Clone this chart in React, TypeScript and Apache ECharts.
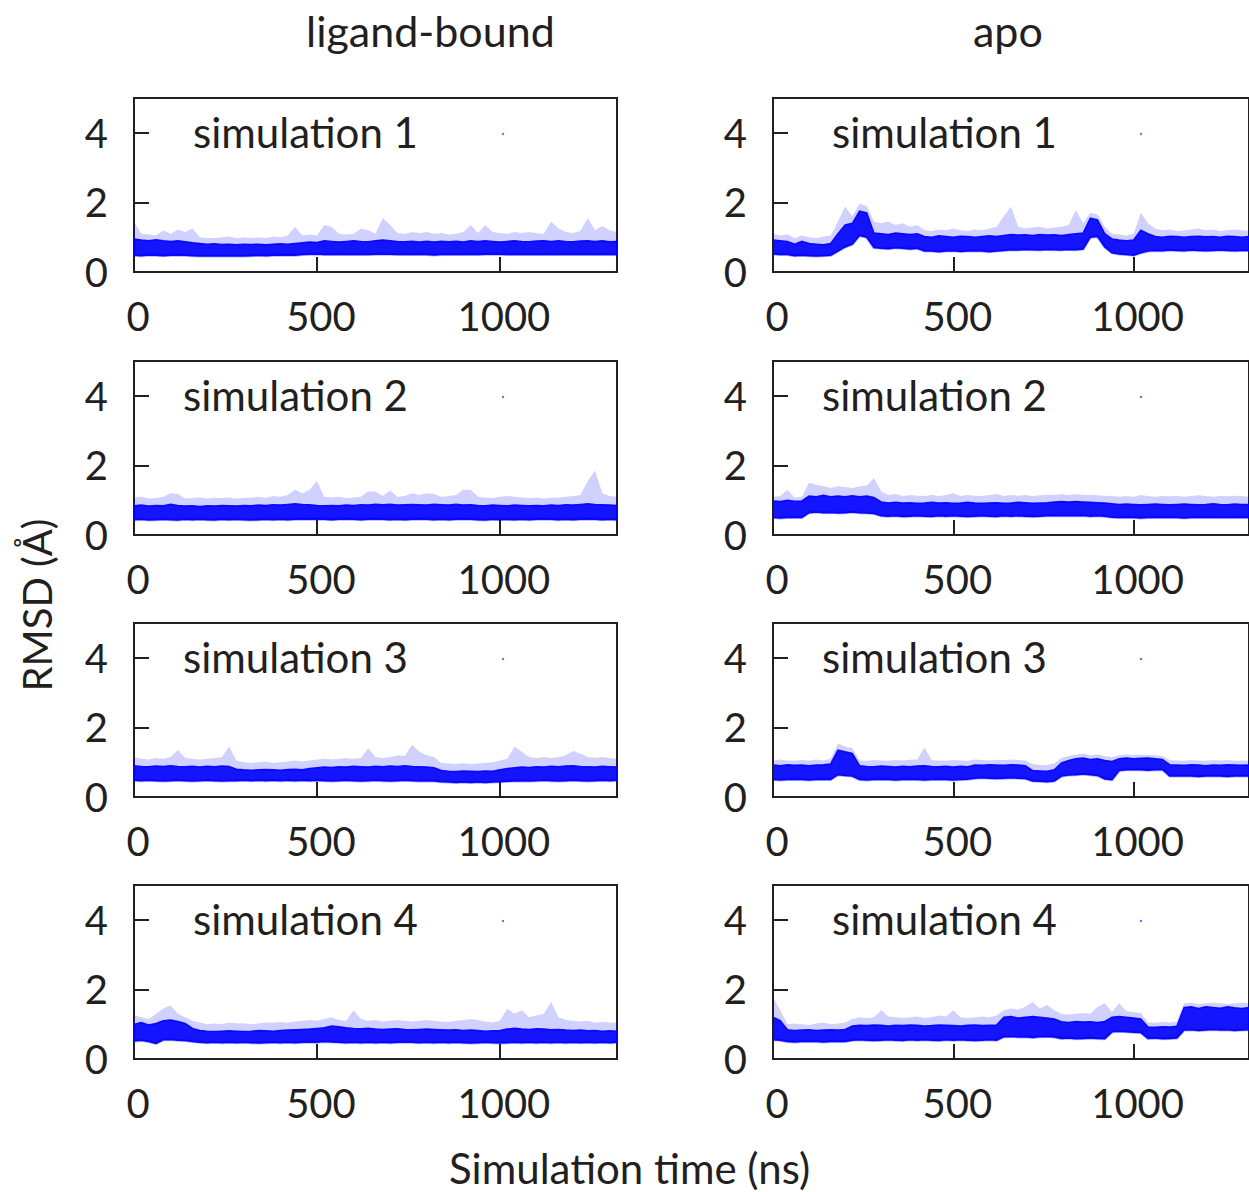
import React, { useEffect, useRef } from "react";
import * as echarts from "echarts";

// Simulation time sample points (ns)
const TIME = [0,20,40,60,80,100,120,140,160,180,200,220,240,260,280,300,320,340,360,380,400,420,440,460,480,500,520,540,560,580,600,620,640,660,680,700,720,740,760,780,800,820,840,860,880,900,920,940,960,980,1000,1020,1040,1060,1080,1100,1120,1140,1160,1180,1200,1220,1240,1260,1280,1300,1320];

const X_TICKS = [0, 500, 1000];
const Y_TICKS = [0, 2, 4];
const COLUMN_TITLES = ["ligand-bound", "apo"];
const PANEL_NAMES = ["simulation 1", "simulation 2", "simulation 3", "simulation 4"];

// ligand-bound, simulation 1: dense-band low edge, dense-band high edge, sparse peak
const LB1_LOW = [0.48,0.47,0.49,0.48,0.47,0.48,0.49,0.48,0.47,0.46,0.47,0.46,0.47,0.46,0.47,0.46,0.47,0.48,0.47,0.48,0.48,0.49,0.48,0.5,0.51,0.52,0.5,0.5,0.51,0.5,0.51,0.5,0.5,0.51,0.52,0.51,0.5,0.51,0.5,0.51,0.5,0.49,0.5,0.51,0.5,0.51,0.5,0.5,0.51,0.52,0.51,0.5,0.51,0.5,0.51,0.5,0.51,0.5,0.5,0.51,0.5,0.5,0.51,0.5,0.51,0.5,0.5];
const LB1_HIGH = [0.95,0.92,0.9,0.93,0.9,0.88,0.9,0.87,0.84,0.82,0.8,0.81,0.79,0.8,0.78,0.8,0.79,0.8,0.78,0.8,0.81,0.8,0.82,0.84,0.86,0.85,0.9,0.88,0.86,0.88,0.9,0.88,0.87,0.9,0.92,0.9,0.88,0.87,0.88,0.86,0.88,0.86,0.88,0.87,0.88,0.86,0.9,0.88,0.9,0.88,0.86,0.88,0.9,0.88,0.87,0.89,0.9,0.88,0.9,0.88,0.87,0.89,0.9,0.88,0.9,0.87,0.88];
const LB1_PEAK = [1.45,1.1,1.08,1.05,1.2,1.1,1.22,1.15,1.25,1.0,0.98,0.98,1.0,1.02,0.97,1.0,0.98,1.0,0.98,1.02,1.0,1.05,1.3,1.05,1.08,1.05,1.35,1.3,1.1,1.08,1.1,1.25,1.2,1.1,1.55,1.35,1.12,1.1,1.15,1.12,1.15,1.1,1.12,1.08,1.1,1.15,1.35,1.12,1.35,1.15,1.12,1.1,1.15,1.12,1.15,1.12,1.1,1.45,1.25,1.15,1.12,1.18,1.55,1.2,1.32,1.2,1.15];

const LB2_LOW = [0.44,0.45,0.43,0.44,0.45,0.44,0.43,0.45,0.44,0.45,0.44,0.43,0.45,0.44,0.45,0.44,0.43,0.44,0.45,0.44,0.45,0.44,0.45,0.46,0.45,0.46,0.45,0.44,0.45,0.46,0.45,0.44,0.45,0.46,0.45,0.44,0.45,0.44,0.45,0.46,0.45,0.44,0.45,0.44,0.45,0.46,0.45,0.44,0.43,0.45,0.44,0.45,0.44,0.45,0.44,0.45,0.46,0.45,0.44,0.45,0.44,0.45,0.46,0.45,0.44,0.45,0.44];
const LB2_HIGH = [0.84,0.86,0.83,0.85,0.84,0.88,0.85,0.83,0.84,0.82,0.84,0.83,0.85,0.84,0.83,0.85,0.84,0.86,0.85,0.87,0.86,0.88,0.9,0.88,0.87,0.85,0.84,0.85,0.84,0.86,0.85,0.87,0.86,0.88,0.87,0.88,0.86,0.87,0.88,0.87,0.86,0.88,0.87,0.86,0.88,0.86,0.87,0.85,0.84,0.86,0.85,0.84,0.86,0.85,0.84,0.85,0.84,0.86,0.85,0.87,0.86,0.88,0.9,0.88,0.87,0.86,0.85];
const LB2_PEAK = [1.08,1.1,1.05,1.06,1.1,1.2,1.18,1.05,1.06,1.08,1.05,1.07,1.06,1.08,1.05,1.06,1.08,1.1,1.07,1.12,1.1,1.15,1.3,1.2,1.3,1.55,1.1,1.08,1.1,1.06,1.08,1.1,1.26,1.25,1.12,1.28,1.1,1.12,1.2,1.15,1.2,1.18,1.1,1.12,1.15,1.3,1.3,1.1,1.08,1.06,1.1,1.12,1.1,1.08,1.06,1.08,1.05,1.07,1.08,1.1,1.12,1.15,1.55,1.85,1.2,1.12,1.1];

const LB3_LOW = [0.48,0.47,0.48,0.47,0.46,0.47,0.48,0.47,0.46,0.47,0.48,0.47,0.46,0.47,0.47,0.48,0.47,0.48,0.47,0.48,0.47,0.48,0.47,0.48,0.47,0.48,0.47,0.46,0.47,0.48,0.47,0.46,0.47,0.48,0.47,0.46,0.47,0.48,0.47,0.46,0.47,0.46,0.44,0.43,0.42,0.43,0.42,0.43,0.42,0.43,0.44,0.45,0.46,0.47,0.46,0.47,0.48,0.47,0.46,0.47,0.48,0.47,0.46,0.47,0.48,0.47,0.48];
const LB3_HIGH = [0.9,0.88,0.87,0.89,0.88,0.9,0.88,0.87,0.88,0.86,0.88,0.87,0.89,0.88,0.8,0.78,0.77,0.78,0.79,0.78,0.77,0.79,0.8,0.78,0.82,0.84,0.86,0.85,0.87,0.86,0.88,0.87,0.86,0.88,0.87,0.89,0.88,0.9,0.88,0.87,0.86,0.84,0.76,0.74,0.73,0.75,0.74,0.73,0.75,0.74,0.78,0.82,0.84,0.86,0.85,0.87,0.86,0.88,0.87,0.89,0.9,0.88,0.87,0.86,0.88,0.87,0.86];
const LB3_PEAK = [1.15,1.1,1.08,1.12,1.1,1.15,1.35,1.12,1.1,1.08,1.1,1.12,1.15,1.45,1.05,1.0,0.98,1.0,1.02,0.98,1.0,1.02,1.05,1.02,1.05,1.08,1.1,1.08,1.1,1.12,1.1,1.12,1.4,1.15,1.12,1.15,1.2,1.18,1.5,1.3,1.2,1.15,0.98,0.96,0.95,0.97,0.95,0.96,0.98,1.0,1.05,1.1,1.45,1.3,1.15,1.12,1.15,1.12,1.15,1.2,1.32,1.25,1.15,1.12,1.15,1.12,1.1];

const LB4_LOW = [0.52,0.54,0.5,0.45,0.55,0.56,0.54,0.53,0.5,0.48,0.47,0.48,0.47,0.48,0.47,0.48,0.47,0.46,0.47,0.48,0.47,0.48,0.47,0.48,0.49,0.48,0.5,0.49,0.48,0.47,0.48,0.47,0.48,0.47,0.48,0.47,0.48,0.49,0.48,0.47,0.48,0.47,0.48,0.47,0.48,0.47,0.46,0.47,0.48,0.47,0.46,0.47,0.48,0.47,0.48,0.47,0.48,0.47,0.48,0.47,0.48,0.47,0.48,0.47,0.48,0.47,0.48];
const LB4_HIGH = [1.0,1.05,0.98,1.02,1.1,1.12,1.08,1.02,0.88,0.82,0.8,0.79,0.8,0.81,0.8,0.79,0.8,0.82,0.81,0.8,0.82,0.83,0.84,0.85,0.86,0.88,0.9,0.95,0.93,0.9,0.88,0.87,0.88,0.86,0.85,0.86,0.87,0.85,0.84,0.85,0.86,0.85,0.84,0.83,0.84,0.82,0.83,0.82,0.8,0.81,0.82,0.86,0.88,0.86,0.85,0.87,0.86,0.84,0.85,0.83,0.82,0.83,0.81,0.82,0.8,0.81,0.8];
const LB4_PEAK = [1.25,1.2,1.15,1.3,1.45,1.54,1.3,1.2,1.1,1.05,1.0,1.02,1.0,1.05,1.02,1.03,1.0,1.02,1.05,1.04,1.06,1.05,1.08,1.1,1.12,1.1,1.15,1.2,1.12,1.1,1.4,1.15,1.1,1.12,1.08,1.1,1.12,1.1,1.08,1.1,1.12,1.1,1.08,1.06,1.1,1.12,1.15,1.12,1.08,1.05,1.1,1.45,1.3,1.4,1.2,1.25,1.3,1.64,1.2,1.12,1.1,1.08,1.1,1.05,1.06,1.05,1.04];

// apo
const AP1_LOW = [0.52,0.5,0.5,0.47,0.48,0.47,0.46,0.47,0.48,0.6,0.72,0.8,1.05,1.0,0.7,0.68,0.67,0.7,0.68,0.66,0.68,0.6,0.6,0.58,0.6,0.61,0.59,0.6,0.61,0.6,0.58,0.6,0.62,0.64,0.63,0.65,0.64,0.63,0.65,0.64,0.63,0.65,0.64,0.66,1.0,1.02,0.72,0.55,0.52,0.5,0.48,0.55,0.6,0.62,0.61,0.63,0.62,0.61,0.63,0.62,0.61,0.62,0.63,0.62,0.61,0.62,0.62];
const AP1_HIGH = [0.92,0.9,0.88,0.8,0.88,0.82,0.8,0.78,0.82,1.1,1.35,1.4,1.75,1.7,1.12,1.1,1.08,1.12,1.1,1.08,1.1,1.02,1.0,1.04,1.02,1.0,1.03,1.02,1.0,1.02,1.04,1.02,1.05,1.08,1.06,1.07,1.05,1.08,1.06,1.07,1.05,1.08,1.1,1.12,1.55,1.5,1.1,0.95,0.92,0.9,0.92,1.2,1.1,1.02,1.0,1.03,1.02,1.0,1.02,1.03,1.01,1.02,1.0,1.03,1.02,1.0,1.02];
const AP1_PEAK = [1.1,1.05,1.08,0.98,1.05,1.0,0.98,1.02,1.05,1.45,1.88,1.6,1.97,1.9,1.45,1.4,1.45,1.35,1.4,1.3,1.35,1.2,1.18,1.22,1.2,1.25,1.2,1.18,1.22,1.2,1.25,1.3,1.6,1.88,1.3,1.25,1.28,1.3,1.25,1.28,1.3,1.35,1.78,1.4,1.7,1.65,1.3,1.1,1.08,1.05,1.1,1.7,1.4,1.25,1.2,1.22,1.18,1.2,1.22,1.25,1.2,1.22,1.18,1.2,1.22,1.2,1.18];

const AP2_LOW = [0.5,0.49,0.5,0.51,0.5,0.64,0.66,0.64,0.65,0.63,0.64,0.66,0.64,0.63,0.62,0.55,0.54,0.55,0.53,0.54,0.55,0.54,0.53,0.55,0.54,0.55,0.54,0.53,0.54,0.55,0.54,0.53,0.55,0.54,0.55,0.54,0.53,0.54,0.55,0.56,0.55,0.56,0.55,0.56,0.54,0.55,0.54,0.51,0.5,0.51,0.5,0.49,0.5,0.51,0.5,0.51,0.5,0.49,0.5,0.51,0.5,0.51,0.5,0.5,0.51,0.5,0.5];
const AP2_HIGH = [0.98,0.96,1.0,0.97,0.98,1.12,1.1,1.14,1.1,1.12,1.1,1.13,1.1,1.12,1.08,0.95,0.92,0.94,0.92,0.93,0.91,0.92,0.94,0.92,0.93,0.91,0.92,0.94,0.92,0.91,0.92,0.93,0.91,0.92,0.94,0.93,0.91,0.92,0.93,0.95,0.96,0.95,0.96,0.95,0.94,0.93,0.92,0.9,0.88,0.89,0.88,0.87,0.88,0.89,0.88,0.87,0.88,0.89,0.88,0.87,0.88,0.9,0.88,0.87,0.89,0.88,0.88];
const AP2_PEAK = [1.1,1.12,1.3,1.08,1.1,1.5,1.45,1.4,1.35,1.4,1.38,1.35,1.4,1.42,1.64,1.25,1.15,1.18,1.12,1.15,1.13,1.12,1.15,1.12,1.15,1.2,1.12,1.15,1.13,1.12,1.15,1.18,1.12,1.15,1.13,1.15,1.12,1.14,1.16,1.15,1.18,1.15,1.17,1.16,1.15,1.14,1.13,1.12,1.1,1.12,1.1,1.15,1.12,1.1,1.12,1.11,1.12,1.1,1.12,1.14,1.12,1.1,1.12,1.11,1.13,1.12,1.1];

const AP3_LOW = [0.5,0.49,0.5,0.51,0.5,0.49,0.5,0.51,0.5,0.64,0.62,0.6,0.5,0.49,0.5,0.51,0.5,0.49,0.5,0.51,0.5,0.49,0.5,0.51,0.5,0.49,0.5,0.51,0.54,0.55,0.54,0.53,0.54,0.55,0.54,0.53,0.46,0.45,0.44,0.46,0.6,0.63,0.64,0.66,0.64,0.62,0.52,0.5,0.76,0.78,0.79,0.78,0.77,0.78,0.79,0.6,0.6,0.61,0.6,0.59,0.6,0.61,0.6,0.59,0.6,0.61,0.6];
const AP3_HIGH = [0.92,0.9,0.93,0.91,0.92,0.9,0.92,0.93,0.95,1.35,1.3,1.25,0.9,0.88,0.87,0.89,0.88,0.86,0.88,0.87,0.89,0.9,0.88,0.87,0.88,0.86,0.88,0.87,0.92,0.91,0.93,0.92,0.91,0.93,0.92,0.9,0.76,0.75,0.74,0.78,0.98,1.05,1.1,1.12,1.08,1.1,1.05,1.02,1.1,1.12,1.1,1.11,1.12,1.1,1.08,0.93,0.92,0.91,0.93,0.92,0.9,0.92,0.91,0.93,0.92,0.91,0.92];
const AP3_PEAK = [1.05,1.08,1.05,1.04,1.06,1.05,1.08,1.05,1.1,1.54,1.45,1.4,1.05,1.04,1.06,1.05,1.04,1.06,1.05,1.07,1.08,1.42,1.06,1.05,1.04,1.06,1.05,1.04,1.08,1.06,1.05,1.07,1.06,1.08,1.06,1.05,0.95,0.92,0.92,0.96,1.12,1.18,1.22,1.25,1.2,1.22,1.18,1.15,1.2,1.22,1.2,1.22,1.21,1.2,1.18,1.06,1.05,1.04,1.06,1.05,1.04,1.06,1.05,1.06,1.04,1.05,1.04];

const AP4_LOW = [0.55,0.54,0.5,0.49,0.5,0.51,0.5,0.49,0.5,0.51,0.5,0.54,0.55,0.54,0.53,0.54,0.55,0.54,0.53,0.55,0.54,0.55,0.54,0.53,0.55,0.54,0.55,0.54,0.53,0.54,0.55,0.54,0.64,0.65,0.63,0.64,0.62,0.64,0.65,0.63,0.59,0.6,0.58,0.59,0.6,0.59,0.58,0.78,0.8,0.78,0.77,0.76,0.59,0.6,0.58,0.59,0.6,0.83,0.84,0.82,0.83,0.85,0.83,0.84,0.82,0.83,0.84];
const AP4_HIGH = [1.2,1.1,0.84,0.82,0.83,0.84,0.82,0.83,0.84,0.83,0.85,0.95,0.97,0.96,0.98,0.97,0.95,0.97,0.96,0.98,0.97,0.95,0.96,0.98,0.97,0.96,0.95,0.97,0.98,0.96,0.97,0.98,1.2,1.22,1.18,1.2,1.22,1.2,1.18,1.15,1.07,1.05,1.08,1.06,1.07,1.05,1.08,1.2,1.22,1.2,1.18,1.15,0.92,0.91,0.93,0.92,0.94,1.48,1.5,1.45,1.5,1.48,1.46,1.5,1.47,1.45,1.48];
const AP4_PEAK = [1.78,1.4,1.0,1.02,1.0,0.98,1.02,1.05,1.0,1.02,1.05,1.15,1.2,1.18,1.2,1.4,1.22,1.2,1.18,1.2,1.22,1.18,1.2,1.25,1.22,1.4,1.2,1.18,1.2,1.22,1.2,1.25,1.4,1.45,1.42,1.5,1.64,1.45,1.55,1.4,1.3,1.28,1.3,1.32,1.3,1.5,1.6,1.35,1.6,1.38,1.35,1.32,1.05,1.04,1.06,1.05,1.08,1.6,1.62,1.58,1.6,1.62,1.6,1.58,1.6,1.62,1.6];

const LOWS = [LB1_LOW, LB2_LOW, LB3_LOW, LB4_LOW, AP1_LOW, AP2_LOW, AP3_LOW, AP4_LOW];
const HIGHS = [LB1_HIGH, LB2_HIGH, LB3_HIGH, LB4_HIGH, AP1_HIGH, AP2_HIGH, AP3_HIGH, AP4_HIGH];
const PEAKS = [LB1_PEAK, LB2_PEAK, LB3_PEAK, LB4_PEAK, AP1_PEAK, AP2_PEAK, AP3_PEAK, AP4_PEAK];

const FONT = "Lato";
const INK = "#231f20";
const BLUE = "#0000ff";

const COL_LEFT = [134, 773];
const ROW_TOP = [98, 361, 623, 885];
const GRID_W = 483;
const GRID_H = 174;
const KEY_X = [[193, 183, 183, 193], [832, 822, 822, 832]];
const KEY_DOT_X = [503, 1141];

export default function App() {
  const ref = useRef<HTMLDivElement>(null);
  useEffect(() => {
    const chart = echarts.init(ref.current!, null, { renderer: "svg" });
    const grids: any[] = [];
    const xAxes: any[] = [];
    const yAxes: any[] = [];
    const series: any[] = [];
    const graphics: any[] = [];
    for (let c = 0; c < 2; c++) {
      for (let r = 0; r < 4; r++) {
        const i = c * 4 + r;
        grids.push({
          left: COL_LEFT[c], top: ROW_TOP[r], width: GRID_W, height: GRID_H,
          show: true, borderColor: INK, borderWidth: 2, backgroundColor: "transparent",
        });
        xAxes.push({
          gridIndex: i, type: "value", min: X_TICKS[0], max: 1320, interval: X_TICKS[1] - X_TICKS[0],
          axisLine: { show: false },
          axisTick: { show: true, inside: true, length: 15, lineStyle: { color: INK, width: 2 } },
          axisLabel: {
            fontSize: 40, color: INK, fontFamily: FONT, margin: 24, showMaxLabel: false,
            padding: [0, 0, 0, 8], formatter: (v: number) => String(v),
          },
          splitLine: { show: false },
        });
        yAxes.push({
          gridIndex: i, type: "value", min: Y_TICKS[0], max: 5, interval: Y_TICKS[1] - Y_TICKS[0],
          axisLine: { show: false },
          axisTick: { show: true, inside: true, length: 15, lineStyle: { color: INK, width: 2 } },
          axisLabel: { fontSize: 40, color: INK, fontFamily: FONT, margin: 26, showMaxLabel: false, formatter: (v: number) => String(v) },
          splitLine: { show: false },
        });
        const lo = LOWS[i], hi = HIGHS[i], pk = PEAKS[i];
        series.push({
          type: "custom", xAxisIndex: i, yAxisIndex: i, silent: true, clip: true,
          data: [[TIME[0], lo[0]]],
          encode: { x: 0, y: 1 },
          renderItem: (_params: any, api: any) => {
            const top = TIME.map((t, k) => api.coord([t, pk[k]]));
            const upper = TIME.map((t, k) => api.coord([t, hi[k]]));
            const lower = TIME.map((t, k) => api.coord([t, lo[k]]));
            return {
              type: "group",
              children: [
                {
                  type: "polygon",
                  shape: { points: top.concat(upper.slice().reverse()) },
                  style: { fill: BLUE, opacity: 0.18 },
                },
                {
                  type: "polygon",
                  shape: { points: upper.concat(lower.slice().reverse()) },
                  style: { fill: BLUE, stroke: BLUE, lineWidth: 1.5, opacity: 0.92 },
                },
                {
                  type: "polyline",
                  shape: { points: lower },
                  style: { stroke: BLUE, lineWidth: 3, opacity: 0.3, fill: "none" },
                },
              ],
            };
          },
        });
        graphics.push({
          type: "text", left: KEY_X[c][r], top: ROW_TOP[r] + 13,
          style: { text: PANEL_NAMES[r], fontSize: 42, fontFamily: FONT, fill: INK },
        });
        graphics.push({
          type: "circle", shape: { cx: KEY_DOT_X[c], cy: ROW_TOP[r] + 36, r: 1.2 },
          style: { fill: BLUE, opacity: 0.6 },
        });
      }
    }
    graphics.push({
      type: "text", left: 306, top: 9,
      style: { text: COLUMN_TITLES[0], fontSize: 43, fontFamily: FONT, fill: INK },
    });
    graphics.push({
      type: "text", left: 973, top: 9,
      style: { text: COLUMN_TITLES[1], fontSize: 43, fontFamily: FONT, fill: INK },
    });
    graphics.push({
      type: "text", left: 449, top: 1147,
      style: { text: "Simulation time (ns)", fontSize: 42, fontFamily: FONT, fill: INK },
    });
    graphics.push({
      type: "text", x: 37, y: 605, rotation: Math.PI / 2,
      style: { text: "RMSD (Å)", fontSize: 40, fontFamily: FONT, fill: INK, align: "center", verticalAlign: "middle" },
    });
    chart.setOption({
      animation: false,
      backgroundColor: "#ffffff",
      grid: grids,
      xAxis: xAxes,
      yAxis: yAxes,
      series,
      graphic: graphics,
    });
    return () => chart.dispose();
  }, []);
  return (
    <div
      ref={ref}
      style={{ position: "fixed", left: 0, top: 0, width: 1249, height: 1192, background: "#fff" }}
    />
  );
}
